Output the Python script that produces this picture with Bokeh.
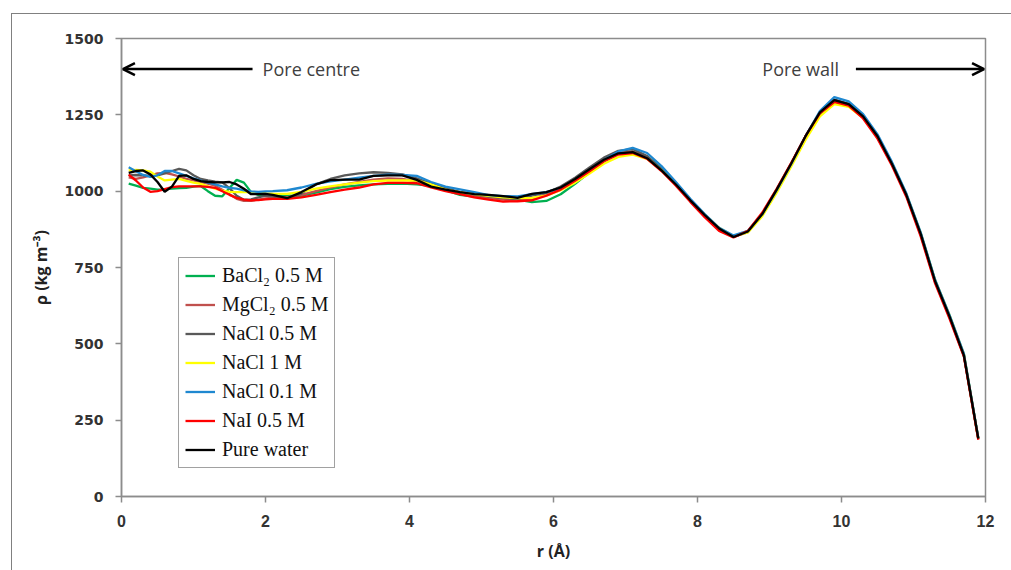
from bokeh.plotting import figure
from bokeh.models import (Range1d, FixedTicker, Legend, LegendItem, Arrow, OpenHead,
                          Label, InlineStyleSheet)
from bokeh.embed import file_html
from bokeh.resources import INLINE

# radial position grid (Å)
r = [round(0.1 * i, 1) for i in range(1, 21)] + [round(2.1 + 0.2 * i, 1) for i in range(50)]

bacl2 = [1025,1018,1011,1008,1005,1006,1008,1010,1011,1015,1017,1000,985,983,1010,1037,1028,997,988,985,
         985,985,985,995,1007,1014,1019,1022,1024,1025,1022,1017,1003,988,982,980,977,972,964,968,
         990,1024,1062,1098,1122,1130,1114,1074,1026,972,922,878,852,868,922,1000,1085,1175,1252,1292,
         1284,1244,1180,1092,990,862,708,592,465,190]
mgcl2 = [1045,1040,1045,1052,1058,1060,1055,1048,1040,1035,1030,1025,1018,1005,990,975,968,968,972,976,
         978,980,988,1000,1012,1022,1030,1038,1042,1040,1032,1020,1008,995,985,978,972,968,975,990,
         1008,1038,1070,1102,1124,1130,1112,1070,1022,970,920,876,850,868,926,1006,1090,1180,1258,1296,
         1283,1242,1176,1088,986,856,702,587,460,188]
nacl05 = [1052,1053,1052,1050,1052,1058,1066,1073,1068,1052,1040,1035,1031,1029,1010,985,972,973,980,985,
          983,975,992,1022,1040,1052,1058,1062,1060,1055,1042,1025,1010,997,990,983,978,975,985,995,
          1015,1044,1078,1110,1132,1138,1115,1072,1024,972,922,878,850,866,922,1002,1088,1178,1256,1300,
          1286,1245,1180,1090,988,860,705,590,462,190]
nacl1 = [1068,1070,1068,1064,1048,1035,1038,1040,1034,1028,1024,1016,1008,1002,998,997,997,997,995,993,
         992,991,998,1008,1016,1022,1028,1033,1035,1035,1035,1022,1005,996,990,985,980,977,978,985,
         1003,1028,1058,1090,1112,1120,1106,1068,1022,972,924,880,852,865,918,995,1080,1168,1245,1285,
         1276,1240,1178,1092,990,863,709,595,466,190]
nacl01 = [1078,1065,1053,1047,1052,1066,1066,1058,1050,1042,1035,1028,1022,1016,1011,1008,1003,999,998,999,
          1000,1003,1012,1024,1032,1038,1044,1050,1054,1053,1050,1030,1015,1006,997,987,984,983,990,997,
          1010,1036,1068,1102,1130,1142,1125,1082,1030,975,925,880,855,870,925,1003,1088,1180,1262,1308,
          1294,1252,1186,1096,993,865,710,595,468,193]
nai05 = [1054,1035,1012,998,1000,1007,1013,1016,1016,1016,1016,1014,1011,1000,988,978,972,970,971,973,
         975,975,980,988,997,1005,1012,1022,1027,1027,1026,1012,1000,990,980,972,966,967,970,985,
         1005,1034,1065,1098,1120,1125,1106,1066,1018,965,915,870,848,870,930,1008,1092,1180,1255,1292,
         1280,1238,1172,1084,982,852,698,583,458,186]
water = [1060,1066,1068,1055,1030,998,1015,1050,1052,1040,1033,1030,1029,1029,1030,1022,1008,990,990,991,
         988,977,997,1022,1036,1038,1038,1050,1052,1052,1037,1015,1005,997,990,988,984,978,991,997,
         1012,1040,1072,1103,1124,1128,1108,1068,1022,970,922,878,850,868,925,1005,1090,1180,1258,1298,
         1285,1245,1180,1090,988,860,705,590,462,190]

series_names = ["BaCl₂ 0.5 M", "MgCl₂ 0.5 M", "NaCl 0.5 M", "NaCl 1 M", "NaCl 0.1 M", "NaI 0.5 M", "Pure water"]
series_values = [bacl2, mgcl2, nacl05, nacl1, nacl01, nai05, water]
series_colors = ["#00b050", "#c0504d", "#595959", "#ffff00", "#1f88d0", "#ff0000", "#000000"]

x_ticks = [0, 2, 4, 6, 8, 10, 12]
y_ticks = [0, 250, 500, 750, 1000, 1250, 1500]

p = figure(width=1011, height=570, x_range=Range1d(0, 12), y_range=Range1d(0, 1500),
           output_backend="svg", toolbar_location=None,
           min_border_left=121, min_border_right=26, min_border_top=38, min_border_bottom=74)
p.background_fill_color = "white"
p.border_fill_color = "white"
p.outline_line_color = "#8c8c8c"
p.outline_line_width = 1.5
p.xgrid.visible = False
p.ygrid.visible = False

for ax in (p.xaxis[0], p.yaxis[0]):
    ax.axis_line_color = "#8c8c8c"
    ax.axis_line_width = 1.5
    ax.major_tick_line_color = "#8c8c8c"
    ax.major_tick_line_width = 1.5
    ax.major_tick_in = 0
    ax.major_tick_out = 6
    ax.minor_tick_line_color = None
    ax.major_label_standoff = 12
    ax.major_label_text_font_style = "bold"
    ax.major_label_text_color = "#333333"
    ax.axis_label_text_font = "Open Sans"
    ax.axis_label_text_font_style = "bold"
    ax.axis_label_text_font_size = "16px"
    ax.axis_label_text_color = "#222222"

p.xaxis.ticker = FixedTicker(ticks=x_ticks)
p.yaxis.ticker = FixedTicker(ticks=y_ticks)
p.yaxis.major_label_text_font = "DejaVu Sans"
p.yaxis.major_label_text_font_size = "14px"
p.xaxis.major_label_text_font = "'Liberation Sans Narrow', 'Liberation Sans'"
p.xaxis.major_label_text_font_size = "16px"
p.yaxis.axis_label = "ρ (kg m⁻³)"
p.xaxis.axis_label = "r (Å)"
p.yaxis.axis_label_standoff = 10
p.xaxis.axis_label_standoff = 10

items = []
for name, vals, col in zip(series_names, series_values, series_colors):
    rr = p.line(r, vals, line_color=col, line_width=2.3)
    items.append(LegendItem(label=name, renderers=[rr]))

legend = Legend(items=items, location=(57, 28), orientation="vertical",
                label_text_font="Liberation Serif", label_text_font_size="20px",
                label_text_color="#111111",
                label_height=23, glyph_height=23, glyph_width=30, label_standoff=7,
                spacing=6, padding=6, margin=0,
                border_line_color="#444444", border_line_width=1,
                background_fill_color="white", background_fill_alpha=1)
p.add_layout(legend, "center")

# annotations
p.add_layout(Arrow(end=OpenHead(size=12, line_width=2.5, line_color="black"),
                   x_start=1.82, y_start=1400, x_end=0.02, y_end=1400,
                   line_width=2.5, line_color="black"))
p.add_layout(Arrow(end=OpenHead(size=12, line_width=2.5, line_color="black"),
                   x_start=10.2, y_start=1400, x_end=11.98, y_end=1400,
                   line_width=2.5, line_color="black"))
p.add_layout(Label(x=1.96, y=1400, text="Pore centre", text_baseline="middle",
                   text_font="Open Sans", text_font_size="18px", text_color="#404040"))
p.add_layout(Label(x=8.9, y=1400, text="Pore wall", text_baseline="middle",
                   text_font="Open Sans", text_font_size="18px", text_color="#404040"))

# outer frame of the whole figure (left and top edges visible in the window)
p.stylesheets = [InlineStyleSheet(css=(
    ":host { position: relative; }"
    ":host::after { content: ''; position: absolute; left: 11px; top: 13px; right: 0px; bottom: 0px;"
    " border-left: 1.5px solid #808080; border-top: 1.5px solid #808080;"
    " pointer-events: none; z-index: 100; }"
))]

open("out.html", "w").write(file_html(p, INLINE))
